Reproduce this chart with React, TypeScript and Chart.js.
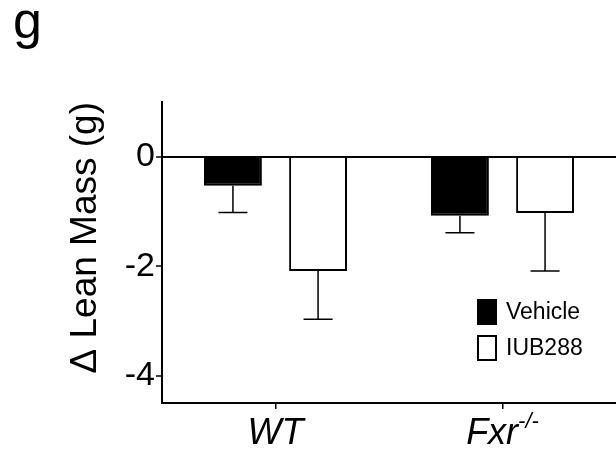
import React, { useEffect, useRef } from "react";
import { Chart, registerables } from "chart.js";

Chart.register(...registerables);

const categories = ["WT", "Fxr"];
const categorySup = ["", "-/-"];
const seriesNames = ["Vehicle", "IUB288"];
const vehicleMeans = [-0.53, -1.08];
const vehicleErrors = [0.49, 0.31];
const iubMeans = [-2.09, -1.03];
const iubErrors = [0.88, 1.06];
const yTickValues = [-4, -2, 0];
const yTitle = "\u0394 Lean Mass (g)";
const panelLabel = "g";

const FONT = "'Liberation Sans', Arial, Helvetica, sans-serif";

const errorBarPlugin = {
  id: "errorBars",
  afterDatasetsDraw(chart: any) {
    const ctx = chart.ctx;
    const yScale = chart.scales.y;
    const errs = [vehicleErrors, iubErrors];
    chart.data.datasets.forEach((ds: any, i: number) => {
      const meta = chart.getDatasetMeta(i);
      meta.data.forEach((el: any, j: number) => {
        const v = ds.data[j];
        const e = errs[i][j];
        const yEnd = yScale.getPixelForValue(v < 0 ? v - e : v + e);
        ctx.save();
        ctx.strokeStyle = "#000";
        ctx.lineWidth = 1.5;
        ctx.beginPath();
        ctx.moveTo(el.x, el.y);
        ctx.lineTo(el.x, yEnd);
        ctx.moveTo(el.x - 14.5, yEnd);
        ctx.lineTo(el.x + 14.5, yEnd);
        ctx.stroke();
        ctx.restore();
      });
    });
  },
};

const textPlugin = {
  id: "extraText",
  afterDraw(chart: any) {
    const ctx = chart.ctx;
    const xScale = chart.scales.x;
    ctx.save();
    // panel label
    ctx.fillStyle = "#000";
    ctx.font = `52px ${FONT}`;
    ctx.textAlign = "left";
    ctx.textBaseline = "alphabetic";
    ctx.fillText(panelLabel, 13, 38);

    // x category labels (italic with superscript)
    categories.forEach((lab: string, i: number) => {
      const x = xScale.getPixelForTick(i);
      const main = `italic 36px ${FONT}`;
      const sup = `italic 22px ${FONT}`;
      ctx.font = main;
      const w1 = ctx.measureText(lab).width;
      ctx.font = sup;
      const w2 = categorySup[i] ? ctx.measureText(categorySup[i]).width : 0;
      const start = x - (w1 + w2) / 2;
      ctx.font = main;
      ctx.textAlign = "left";
      ctx.fillText(lab, start, 444);
      if (categorySup[i]) {
        ctx.font = sup;
        ctx.fillText(categorySup[i], start + w1, 428);
      }
    });

    // legend
    const lx = 478;
    const ly = [300, 336];
    chart.data.datasets.forEach((ds: any, i: number) => {
      ctx.fillStyle = ds.backgroundColor;
      ctx.fillRect(lx, ly[i], 18, 24);
      ctx.strokeStyle = "#000";
      ctx.lineWidth = 2;
      ctx.strokeRect(lx, ly[i], 18, 24);
      ctx.fillStyle = "#000";
      ctx.font = `23px ${FONT}`;
      ctx.textAlign = "left";
      ctx.textBaseline = "middle";
      ctx.fillText(ds.label, 506, ly[i] + 13);
    });
    ctx.restore();
  },
};

export default function App() {
  const ref = useRef<HTMLCanvasElement>(null);
  useEffect(() => {
    if (!ref.current) return;
    Chart.defaults.font.family = FONT;
    const chart = new Chart(ref.current, {
      type: "bar",
      data: {
        labels: categories,
        datasets: [
          {
            label: seriesNames[0],
            data: vehicleMeans,
            backgroundColor: "#000000",
            borderColor: "#000000",
            borderWidth: 2,
            categoryPercentage: 0.75,
            barPercentage: 0.68,
          },
          {
            label: seriesNames[1],
            data: iubMeans,
            backgroundColor: "#ffffff",
            borderColor: "#000000",
            borderWidth: 2,
            categoryPercentage: 0.75,
            barPercentage: 0.68,
          },
        ],
      },
      options: {
        responsive: false,
        animation: false,
        layout: { padding: { left: 0, top: 102, right: 0, bottom: 0 } },
        plugins: {
          legend: { display: false },
          tooltip: { enabled: false },
          title: { display: false },
        },
        scales: {
          x: {
            offset: true,
            grid: {
              display: true,
              offset: false,
              drawOnChartArea: false,
              drawTicks: true,
              tickLength: 6,
              color: "#000",
              lineWidth: 1.5,
            },
            border: { display: true, color: "#000", width: 2 },
            ticks: { display: false },
            afterFit: (scale: any) => {
              scale.height = 48;
            },
          },
          y: {
            min: -4.5,
            max: 1,
            afterBuildTicks: (scale: any) => {
              scale.ticks = yTickValues.map((v) => ({ value: v }));
            },
            grid: {
              display: true,
              drawOnChartArea: true,
              drawTicks: true,
              tickLength: 6,
              color: (c: any) => (c.tick && c.tick.value === 0 ? "#000" : "rgba(0,0,0,0)"),
              lineWidth: 2,
              tickColor: "#000",
              tickWidth: 1.5,
            },
            border: { display: true, color: "#000", width: 2 },
            ticks: {
              color: "#000",
              font: { size: 34, family: FONT },
              padding: 1,
            },
            title: {
              display: true,
              text: yTitle,
              color: "#000",
              align: "end",
              font: { size: 37, family: FONT },
              padding: { top: 64, bottom: 0 },
            },
            afterFit: (scale: any) => {
              scale.width = 162;
            },
          },
        },
      },
      plugins: [errorBarPlugin, textPlugin],
    } as any);
    return () => chart.destroy();
  }, []);
  return (
    <div style={{ position: "fixed", left: 0, top: 0, width: 616, height: 451, background: "#fff" }}>
      <canvas ref={ref} width={616} height={451} style={{ display: "block" }} />
    </div>
  );
}
